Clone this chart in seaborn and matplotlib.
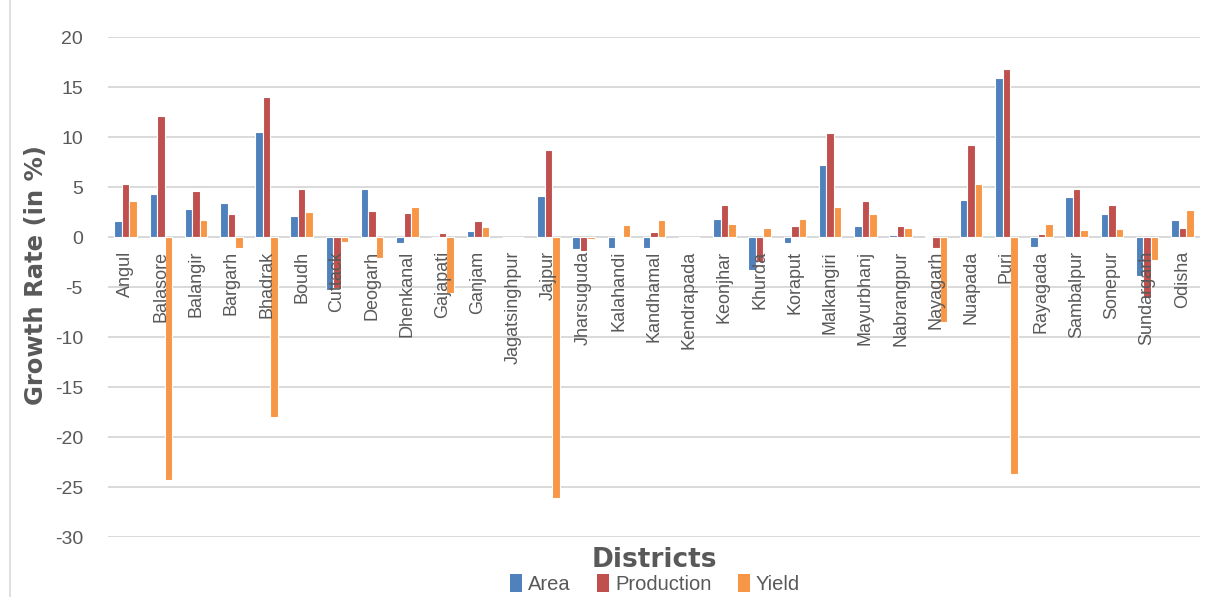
import matplotlib
matplotlib.use("Agg")
import matplotlib.pyplot as plt
import matplotlib.transforms as mtransforms
from matplotlib.lines import Line2D
from matplotlib.patches import Patch
import seaborn as sns
import pandas as pd

districts = ["Angul", "Balasore", "Balangir", "Bargarh", "Bhadrak", "Boudh", "Cuttack",
             "Deogarh", "Dhenkanal", "Gajapati", "Ganjam", "Jagatsinghpur", "Jajpur",
             "Jharsuguda", "Kalahandi", "Kandhamal", "Kendrapada", "Keonjhar", "Khurda",
             "Koraput", "Malkangiri", "Mayurbhanj", "Nabrangpur", "Nayagarh", "Nuapada",
             "Puri", "Rayagada", "Sambalpur", "Sonepur", "Sundargarh", "Odisha"]

area = [1.6, 4.3, 2.8, 3.4, 10.5, 2.1, -5.3, 4.8, -0.6, 0.0, 0.6, 0.0, 4.1,
        -1.2, -1.1, -1.1, 0.0, 1.8, -3.3, -0.6, 7.2, 1.1, 0.2, 0.1, 3.7,
        15.9, -1.0, 4.0, 2.3, -3.9, 1.7]
production = [5.3, 12.1, 4.6, 2.3, 14.0, 4.8, -5.1, 2.6, 2.4, 0.4, 1.6, 0.0, 8.7,
              -1.4, 0.1, 0.5, 0.0, 3.2, -2.5, 1.1, 10.4, 3.6, 1.1, -1.1, 9.2,
              16.8, 0.3, 4.8, 3.2, -6.1, 0.9]
yield_ = [3.6, -24.3, 1.7, -1.1, -18.0, 2.5, -0.5, -2.1, 3.0, -5.6, 1.0, 0.0, -26.1,
          -0.2, 1.2, 1.7, 0.0, 1.3, 0.9, 1.8, 3.0, 2.3, 0.9, -8.5, 5.3,
          -23.7, 1.3, 0.7, 0.8, -2.3, 2.7]

series_names = ["Area", "Production", "Yield"]
colors = ["#4F81BD", "#C0504D", "#F79646"]
y_ticks = list(range(-30, 25, 5))

df = pd.DataFrame({
    "District": districts * 3,
    "Series": [s for s in series_names for _ in districts],
    "Value": area + production + yield_,
})

sns.set_theme(style="white")
plt.rcParams["font.family"] = ["Liberation Sans", "DejaVu Sans"]
text_grey = "#595959"

fig = plt.figure(figsize=(12.17, 5.97), dpi=100)
ax = fig.add_axes([108 / 1217, 1 - 537 / 597, (1200 - 108) / 1217, 500 / 597])

sns.barplot(data=df, x="District", y="Value", hue="Series", palette=colors,
            order=districts, hue_order=series_names, width=0.64, ax=ax,
            saturation=1, edgecolor="white", linewidth=0.8, legend=False, zorder=3)

ax.set_ylim(-30, 20)
ax.set_xlim(-0.5, len(districts) - 0.5)
ax.set_yticks(y_ticks)
ax.set_yticklabels([str(t) for t in y_ticks], color=text_grey, fontsize=14)
ax.tick_params(axis="y", length=0, pad=18)
ax.set_xticks([])
ax.grid(axis="y", color="#D9D9D9", linewidth=1.4, zorder=0)
ax.set_axisbelow(True)
for s in ax.spines.values():
    s.set_visible(False)
ax.axhline(0, color="#D9D9D9", linewidth=1.4, zorder=1)

# category labels hang from the zero line
off = mtransforms.offset_copy(ax.transData, fig=fig, x=0, y=-14, units="dots")
for i, name in enumerate(districts):
    ax.text(i, 0, name, transform=off, rotation=90, ha="center", va="top",
            fontsize=13, color=text_grey, zorder=5)

ax.set_xlabel("")
ax.set_ylabel("Growth Rate (in %)", fontsize=17.5, fontweight="heavy", color=text_grey,
              family=["DejaVu Sans"], va="center")
ax.yaxis.set_label_coords(-0.066, 0.524)
fig.text(654 / 1217, 1 - 560 / 597, "Districts", ha="center", va="center",
         fontsize=19, fontweight="heavy", color=text_grey, family=["DejaVu Sans"])

handles = [Patch(facecolor=c, edgecolor="none", label=n) for c, n in zip(colors, series_names)]
fig.legend(handles=handles, loc="center", bbox_to_anchor=(655 / 1217, 1 - 584 / 597),
           ncol=3, frameon=False, handlelength=0.6, handleheight=1.0,
           handletextpad=0.3, columnspacing=1.3, labelcolor=text_grey,
           prop={"family": ["Liberation Sans", "DejaVu Sans"], "size": 14.5})

fig.add_artist(Line2D([10 / 1217, 10 / 1217], [0, 1], color="#D9D9D9", linewidth=1.2,
                      transform=fig.transFigure))

fig.savefig("out.png", dpi=100, facecolor="white")
